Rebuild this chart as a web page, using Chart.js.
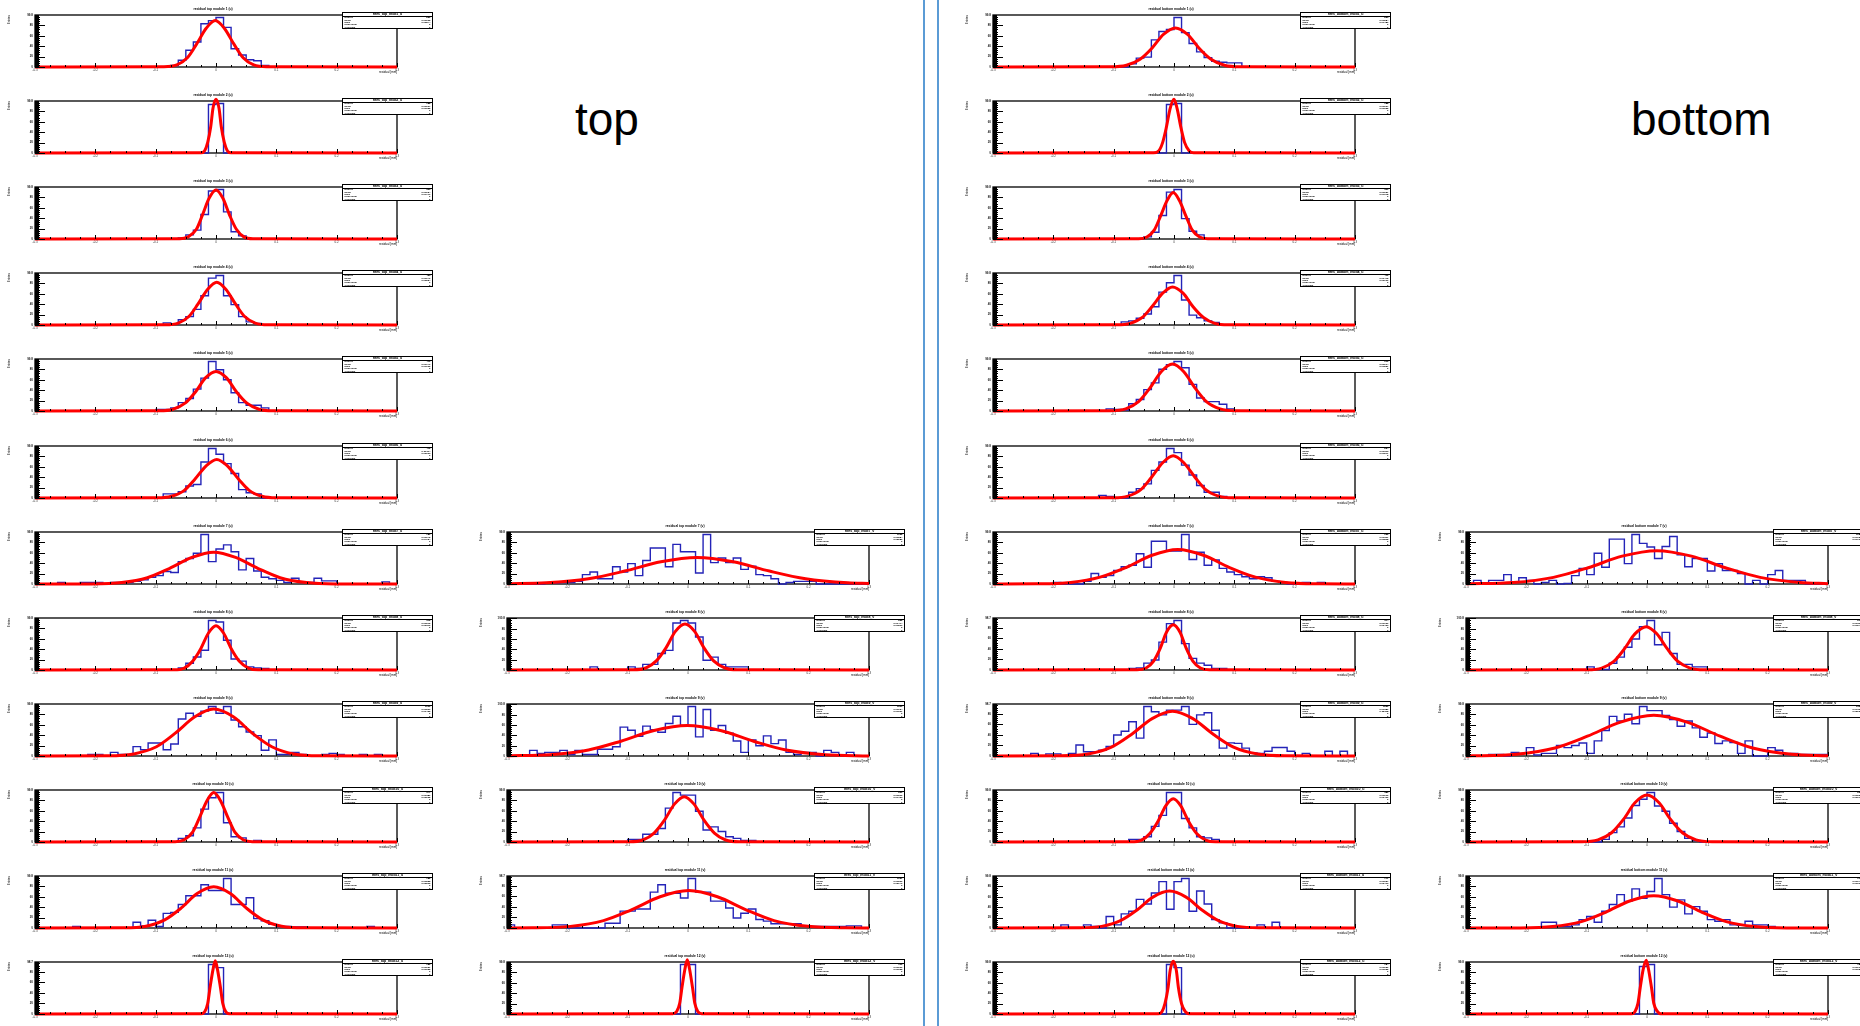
<!DOCTYPE html>
<html>
<head>
<meta charset="utf-8">
<title>Residual fits, top and bottom</title>
<script src="https://cdn.jsdelivr.net/npm/chart.js@4.4.1/dist/chart.umd.min.js"></script>
<style>
  body { margin: 0; width: 1860px; height: 1026px; overflow: hidden; background: #fff; position: relative;
         font-family: "Liberation Sans", Arial, sans-serif; }
  .panel { position: absolute; }
  .panel canvas { position: absolute; left: 0; top: 0; }
  .htitle { position: absolute; font-size: 3.3px; line-height: 3.6px; white-space: nowrap; transform: translateX(-50%); color: #000; font-weight: bold; }
  .stats { position: absolute; background: #fff; border: 1.2px solid #000; box-sizing: border-box; color: #000; overflow: hidden; }
  .stats .hd { font-weight: 900; font-size: 3.6px; line-height: 3.2px; height: 3.2px; text-align: center; border-bottom: 0.8px solid #000; white-space: nowrap; letter-spacing: -0.1px; }
  .stats .row { display: flex; justify-content: space-between; padding: 0 1.5px; font-size: 2.5px; line-height: 2.4px; height: 2.4px; font-weight: bold; }
  .side { position: absolute; font-size: 46px; line-height: 46px; color: #000; }
  .divider { position: absolute; top: 0; width: 2.5px; height: 1026px; background: #5b9bd5; }
</style>
</head>
<body>
<div class="divider" style="left:922.5px"></div>
<div class="divider" style="left:936.5px"></div>
<div class="side" style="left:575px;top:96px">top</div>
<div class="side" style="left:1631px;top:96px">bottom</div>

<script>
// ---- data -----------------------------------------------------------------
// panel order: top/left column rows 1-12, top/right column rows 7-12,
//              bottom/left column rows 1-12, bottom/right column rows 7-12
const NBINS = 48;
const xTickBins = [0, 8, 16, 24, 32, 40, 48];
const xTickLabels = ['-0.3', '-0.2', '-0.1', '0', '0.1', '0.2', '0.3'];

// first filled bin of each histogram
const histStart = [18, 23, 19, 17, 16, 17, 3, 19, 7, 19, 5, 23,
                   5, 11, 3, 16, 0, 23,
                   18, 23, 20, 17, 15, 14, 8, 18, 5, 18, 9, 23,
                   1, 16, 3, 18, 10, 23];

// bin contents from histStart onwards
const histCounts = [
  [3, 13, 32, 48, 83, 89, 95, 76, 35, 23, 14, 12, 3],
  [93, 95],
  [2, 8, 17, 47, 92, 95, 52, 14, 6],
  [4, 2, 10, 16, 30, 56, 90, 95, 56, 39, 16, 6, 3],
  [3, 3, 6, 16, 24, 42, 63, 95, 79, 60, 35, 16, 11, 11, 6],
  [8, 8, 12, 23, 26, 69, 95, 84, 66, 47, 16, 10, 8],
  [3, 0, 0, 3, 3, 3, 0, 3, 3, 3, 5, 8, 13, 16, 24, 22, 43, 49, 59, 95, 43, 67, 75, 62, 27, 49, 25, 13, 10, 7, 3, 11, 3, 3, 11, 6, 6, 0, 0, 0, 0, 0, 0, 4],
  [4, 13, 25, 38, 95, 92, 57, 21, 17, 6, 4, 3],
  [3, 3, 0, 7, 3, 3, 18, 12, 25, 25, 12, 23, 71, 82, 76, 86, 95, 82, 95, 69, 56, 46, 39, 11, 31, 3, 3, 7, 3, 0, 0, 3, 5, 3, 0, 0, 3, 0, 3],
  [7, 12, 27, 63, 85, 95, 37, 10, 8, 0, 3],
  [3, 0, 0, 0, 0, 0, 0, 0, 11, 4, 15, 3, 28, 30, 45, 62, 62, 83, 72, 72, 95, 45, 45, 58, 18, 14, 7, 3, 3, 2, 2, 0, 0, 0, 0, 0, 0, 0, 0, 3],
  [94, 88],

  [2, 2, 3, 3, 5, 18, 23, 10, 10, 33, 23, 39, 16, 45, 69, 69, 33, 76, 62, 62, 21, 95, 41, 50, 41, 50, 28, 34, 18, 16, 10, 0, 3, 5, 5, 5],
  [6, 0, 0, 0, 0, 6, 3, 11, 11, 32, 38, 91, 96, 91, 64, 19, 25, 11, 6, 6, 6],
  [11, 5, 7, 7, 11, 3, 11, 3, 3, 13, 13, 18, 56, 50, 38, 58, 51, 46, 63, 77, 59, 96, 37, 90, 50, 59, 44, 29, 7, 31, 20, 39, 24, 31, 7, 3, 7, 7, 0, 11, 7, 0, 7],
  [5, 5, 15, 15, 26, 65, 95, 90, 90, 59, 23, 29, 20, 10, 7, 3, 3],
  [6, 0, 0, 0, 0, 0, 6, 6, 0, 0, 0, 0, 0, 9, 9, 32, 32, 36, 36, 68, 82, 66, 66, 57, 94, 68, 68, 51, 51, 38, 19, 28, 36, 16, 13, 8, 8, 8, 8, 3, 3, 3, 3, 3, 3, 4, 4],
  [95, 95],

  [6, 17, 19, 52, 68, 72, 95, 66, 45, 29, 18, 11, 9, 8, 8],
  [93, 95],
  [4, 13, 45, 90, 95, 39, 15, 8],
  [6, 8, 13, 21, 35, 63, 81, 95, 48, 19, 14, 8, 5],
  [4, 3, 2, 14, 22, 41, 54, 80, 89, 95, 83, 51, 25, 18, 18, 13, 4],
  [5, 3, 0, 0, 11, 18, 27, 53, 69, 95, 87, 63, 44, 24, 11, 11, 3],
  [3, 0, 0, 0, 5, 20, 13, 16, 26, 33, 36, 58, 32, 82, 82, 63, 63, 95, 47, 61, 36, 46, 30, 23, 18, 14, 10, 14, 12, 5, 3, 0, 0, 3, 0, 3],
  [3, 4, 13, 19, 53, 88, 94, 50, 22, 13, 9, 3, 3],
  [5, 0, 4, 4, 0, 5, 21, 8, 8, 11, 18, 40, 47, 65, 34, 94, 84, 78, 87, 87, 94, 60, 78, 82, 49, 15, 25, 24, 15, 6, 5, 9, 16, 16, 9, 0, 5, 0, 0, 9, 0, 9],
  [5, 5, 10, 30, 51, 95, 95, 45, 27, 10, 8, 5],
  [6, 0, 0, 6, 3, 0, 22, 6, 27, 32, 55, 46, 67, 89, 36, 89, 95, 32, 71, 46, 16, 10, 0, 0, 0, 0, 6, 0, 11],
  [95, 89],

  [7, 0, 7, 7, 18, 3, 12, 7, 0, 3, 7, 0, 1, 16, 30, 18, 59, 32, 86, 86, 39, 95, 78, 71, 49, 72, 91, 56, 33, 49, 49, 25, 39, 26, 26, 20, 0, 7, 0, 18, 26, 7, 7, 7],
  [6, 1, 1, 13, 25, 44, 60, 84, 96, 49, 73, 32, 11, 11, 6, 6],
  [3, 3, 0, 7, 5, 16, 2, 5, 5, 20, 16, 20, 25, 5, 29, 49, 76, 67, 80, 62, 95, 87, 87, 78, 70, 57, 67, 54, 36, 44, 24, 29, 26, 5, 29, 0, 0, 16, 11, 3, 5, 3, 3, 3, 3],
  [5, 18, 29, 46, 70, 82, 95, 69, 59, 36, 20, 7, 3],
  [11, 11, 3, 3, 6, 16, 22, 11, 32, 45, 64, 51, 75, 57, 70, 95, 64, 40, 54, 27, 41, 32, 16, 13, 16, 6, 5, 13, 6, 6, 3],
  [91, 95]
];

// points (x in bin units)
const fitX = [
  [0, 17.1, 18.8, 20.2, 21.4, 22.7, 23.9, 25.1, 26.4, 27.6, 29.0, 30.7, 48],
  [0, 22.0, 22.5, 22.9, 23.3, 23.6, 24.0, 24.4, 24.7, 25.1, 25.5, 26.0, 48],
  [0, 19.2, 20.3, 21.4, 22.2, 23.1, 24.0, 24.9, 25.8, 26.7, 27.7, 28.9, 48],
  [0, 17.3, 19.0, 20.4, 21.6, 22.9, 24.1, 25.3, 26.6, 27.8, 29.2, 30.9, 48],
  [0, 16.5, 18.3, 19.9, 21.3, 22.6, 24.0, 25.4, 26.7, 28.1, 29.7, 31.5, 48],
  [0, 16.2, 18.1, 19.8, 21.2, 22.7, 24.1, 25.5, 27.0, 28.4, 30.1, 32.0, 48],
  [0, 7.5, 11.5, 14.9, 17.8, 20.8, 23.7, 26.6, 29.6, 32.5, 36.0, 39.9, 48],
  [0, 18.4, 19.8, 20.9, 22.0, 23.0, 24.0, 25.0, 26.0, 27.1, 28.3, 29.6, 48],
  [0, 9.7, 13.1, 16.1, 18.6, 21.2, 23.7, 26.3, 28.8, 31.4, 34.3, 37.7, 48],
  [0, 18.6, 19.8, 20.9, 21.8, 22.8, 23.7, 24.6, 25.6, 26.5, 27.6, 28.8, 48],
  [0, 11.8, 14.7, 17.2, 19.4, 21.5, 23.7, 25.9, 28.0, 30.2, 32.7, 35.6, 48],
  [0, 22.0, 22.5, 22.9, 23.2, 23.6, 23.9, 24.2, 24.6, 24.9, 25.3, 25.8, 48],

  [0, 5.2, 10.8, 15.6, 20.4, 25.2, 30.0, 34.8, 39.6, 45.2, 48],
  [0, 16.7, 18.4, 19.8, 21.1, 22.3, 23.6, 24.9, 26.1, 27.4, 28.9, 30.5, 48],
  [0, 5.7, 10.8, 15.1, 19.5, 23.9, 28.3, 32.7, 37.0, 42.2, 48],
  [0, 16.2, 18.0, 19.5, 20.9, 22.2, 23.5, 24.8, 26.1, 27.5, 29.0, 30.8, 48],
  [0, 3.3, 8.4, 12.8, 16.5, 20.3, 24.1, 27.9, 31.7, 35.4, 39.9, 44.9, 48],
  [0, 22.0, 22.5, 22.9, 23.2, 23.6, 23.9, 24.2, 24.6, 24.9, 25.3, 25.8, 48],

  [0, 15.6, 17.7, 19.5, 21.1, 22.6, 24.2, 25.8, 27.3, 28.9, 30.7, 32.8, 48],
  [0, 21.3, 22.0, 22.5, 23.0, 23.5, 24.0, 24.4, 24.9, 25.4, 26.0, 26.6, 48],
  [0, 19.3, 20.4, 21.4, 22.2, 23.1, 23.9, 24.7, 25.6, 26.4, 27.4, 28.5, 48],
  [0, 16.4, 18.2, 19.8, 21.1, 22.5, 23.8, 25.2, 26.5, 27.9, 29.4, 31.2, 48],
  [0, 15.6, 17.6, 19.3, 20.8, 22.3, 23.8, 25.3, 26.8, 28.3, 30.1, 32.1, 48],
  [0, 16.0, 17.9, 19.6, 21.0, 22.5, 23.9, 25.3, 26.8, 28.2, 29.9, 31.8, 48],
  [0, 5.7, 10.3, 14.2, 17.7, 21.1, 24.5, 27.9, 31.3, 34.8, 38.8, 43.3, 48],
  [0, 19.1, 20.3, 21.3, 22.2, 23.0, 23.9, 24.8, 25.6, 26.5, 27.5, 28.7, 48],
  [0, 9.0, 12.6, 15.7, 18.4, 21.1, 23.8, 26.5, 29.2, 31.9, 35.1, 38.7, 48],
  [0, 18.3, 19.7, 20.8, 21.9, 22.9, 23.9, 24.9, 25.9, 27.0, 28.2, 29.5, 48],
  [0, 11.5, 14.4, 16.9, 19.1, 21.2, 23.4, 25.6, 27.7, 29.9, 32.4, 35.3, 48],
  [0, 21.9, 22.4, 22.8, 23.2, 23.5, 23.9, 24.3, 24.6, 25.0, 25.5, 26.0, 48],

  [0, 6.3, 11.6, 16.2, 20.7, 25.3, 29.9, 34.4, 39.0, 44.3, 48],
  [0, 16.1, 18.0, 19.6, 21.0, 22.4, 23.9, 25.3, 26.7, 28.1, 29.7, 31.6, 48],
  [0, 0.8, 6.7, 11.8, 16.1, 20.5, 24.9, 29.3, 33.7, 38.0, 43.2, 48],
  [0, 15.4, 17.5, 19.3, 20.9, 22.4, 24.0, 25.6, 27.1, 28.7, 30.5, 32.6, 48],
  [0, 7.2, 11.5, 15.3, 18.5, 21.7, 24.9, 28.1, 31.3, 34.5, 38.3, 42.6, 48],
  [0, 21.9, 22.4, 22.8, 23.1, 23.5, 23.9, 24.2, 24.6, 24.9, 25.4, 25.8, 48]
];

const fitY = [
  [0, 0.4, 3.9, 17.6, 43.3, 74.3, 89, 74.3, 43.3, 17.6, 3.9, 0.4, 0],
  [0, 0.4, 4.5, 20.4, 50.2, 86, 103, 86, 50.2, 20.4, 4.5, 0.4, 0],
  [0, 0.4, 4.1, 18.6, 45.8, 78.5, 94, 78.5, 45.8, 18.6, 4.1, 0.4, 0],
  [0, 0.3, 3.6, 16.2, 39.9, 68.5, 82, 68.5, 39.9, 16.2, 3.6, 0.3, 0],
  [0, 0.3, 3.3, 15.0, 37.0, 63.5, 76, 63.5, 37.0, 15.0, 3.3, 0.3, 0],
  [0, 0.3, 3.3, 14.7, 36.0, 61.8, 74, 61.8, 36.0, 14.7, 3.3, 0.3, 0],
  [0, 0.2, 2.7, 12.1, 29.7, 50.9, 61, 50.9, 29.7, 12.1, 2.7, 0.2, 0],
  [0, 0.3, 3.7, 16.8, 41.4, 71.0, 85, 71.0, 41.4, 16.8, 3.7, 0.3, 0],
  [0, 0.4, 4.0, 17.8, 43.8, 75.2, 90, 75.2, 43.8, 17.8, 4.0, 0.4, 0],
  [0, 0.4, 4.2, 18.8, 46.3, 79.3, 95, 79.3, 46.3, 18.8, 4.2, 0.4, 0],
  [0, 0.3, 3.5, 15.6, 38.5, 66.0, 79, 66.0, 38.5, 15.6, 3.5, 0.3, 0],
  [0, 0.4, 4.4, 20.0, 49.2, 84.3, 101, 84.3, 49.2, 20.0, 4.4, 0.4, 0],

  [0.4, 2.2, 10.1, 24.8, 42.6, 51, 42.6, 24.8, 10.1, 2.2, 0.9],
  [0, 0.4, 3.9, 17.6, 43.3, 74.3, 89, 74.3, 43.3, 17.6, 3.9, 0.4, 0],
  [0.3, 2.6, 11.7, 28.7, 49.3, 59, 49.3, 28.7, 11.7, 2.6, 0.2],
  [0, 0.3, 3.8, 17.2, 42.4, 72.6, 87, 72.6, 42.4, 17.2, 3.8, 0.3, 0],
  [0.1, 0.3, 3.1, 14.1, 34.6, 59.3, 71, 59.3, 34.6, 14.1, 3.1, 0.3, 0.1],
  [0, 0.4, 4.6, 20.6, 50.6, 86.8, 104, 86.8, 50.6, 20.6, 4.6, 0.4, 0],

  [0, 0.3, 3.3, 14.9, 36.5, 62.6, 75, 62.6, 36.5, 14.9, 3.3, 0.3, 0],
  [0, 0.4, 4.5, 20.4, 50.2, 86, 103, 86, 50.2, 20.4, 4.5, 0.4, 0],
  [0, 0.4, 3.9, 17.6, 43.3, 74.3, 89, 74.3, 43.3, 17.6, 3.9, 0.4, 0],
  [0, 0.3, 3.2, 14.5, 35.6, 61.0, 73, 61.0, 35.6, 14.5, 3.2, 0.3, 0],
  [0, 0.4, 4.0, 17.8, 43.8, 75.2, 90, 75.2, 43.8, 17.8, 4.0, 0.4, 0],
  [0, 0.3, 3.6, 16.0, 39.4, 67.6, 81, 67.6, 39.4, 16.0, 3.6, 0.3, 0],
  [0, 0.3, 2.9, 13.1, 32.1, 55.1, 66, 55.1, 32.1, 13.1, 2.9, 0.3, 0],
  [0, 0.3, 3.8, 17.0, 41.9, 71.8, 86, 71.8, 41.9, 17.0, 3.8, 0.3, 0],
  [0, 0.3, 3.7, 16.8, 41.4, 71.0, 85, 71.0, 41.4, 16.8, 3.7, 0.3, 0],
  [0, 0.3, 3.7, 16.4, 40.4, 69.3, 83, 69.3, 40.4, 16.4, 3.7, 0.3, 0],
  [0, 0.3, 3.1, 14.1, 34.6, 59.3, 71, 59.3, 34.6, 14.1, 3.1, 0.3, 0],
  [0, 0.4, 4.4, 20.0, 49.2, 84.3, 101, 84.3, 49.2, 20.0, 4.4, 0.4, 0],

  [0.3, 2.8, 12.7, 31.2, 53.4, 64, 53.4, 31.2, 12.7, 2.8, 0.7],
  [0, 0.3, 3.7, 16.6, 40.9, 70.1, 84, 70.1, 40.9, 16.6, 3.7, 0.3, 0],
  [0.2, 0.3, 3.4, 15.4, 38.0, 65.1, 78, 65.1, 38.0, 15.4, 3.4, 0.5],
  [0, 0.4, 4.0, 17.8, 43.8, 75.2, 90, 75.2, 43.8, 17.8, 4.0, 0.4, 0],
  [0, 0.2, 2.7, 12.3, 30.2, 51.8, 62, 51.8, 30.2, 12.3, 2.7, 0.2, 0],
  [0, 0.4, 4.5, 20.4, 50.2, 86, 103, 86, 50.2, 20.4, 4.5, 0.4, 0]
];

// ---- layout ---------------------------------------------------------------
const FRAME_W = 362, FRAME_H = 52;
const AXIS_L = 38, AXIS_B = 12, PAD_T = 15, PAD_R = 40;
const ROW0 = 15, ROW_PITCH = 86.1;

const groups = [
  { side: 'top', frameLeft: 35, firstRow: 0, proj: 'u' },
  { side: 'top', frameLeft: 507, firstRow: 6, proj: 'v' },
  { side: 'bottom', frameLeft: 993, firstRow: 0, proj: 'u' },
  { side: 'bottom', frameLeft: 1466, firstRow: 6, proj: 'v' }
];

// ROOT style frame and tick marks (ticks drawn inside the frame)
const rootAxes = {
  id: 'rootAxes',
  beforeDatasetsDraw(chart) {
    const { ctx, chartArea: a } = chart;
    ctx.save();
    ctx.strokeStyle = '#000';
    ctx.lineWidth = 1.3;
    ctx.strokeRect(a.left, a.top, a.right - a.left, a.bottom - a.top);
    ctx.restore();
  },
  afterDatasetsDraw(chart) {
    const { ctx, chartArea: a, scales: { x, y } } = chart;
    ctx.save();
    ctx.strokeStyle = '#000';
    ctx.lineWidth = 1;
    ctx.beginPath();
    for (let b = 0; b <= NBINS; b += 2) {
      const px = Math.round(x.getPixelForValue(b)) + 0.5;
      const len = b % 8 === 0 ? 4 : 2;
      ctx.moveTo(px, a.bottom);
      ctx.lineTo(px, a.bottom - len);
    }
    const step = y.ticks.length > 1 ? y.ticks[1].value - y.ticks[0].value : 10;
    const nMinor = Math.floor(y.max / (step / 5));
    for (let i = 0; i <= nMinor; i++) {
      const py = Math.round(y.getPixelForValue(i * step / 5)) + 0.5;
      ctx.moveTo(a.left, py);
      ctx.lineTo(a.left + (i % 5 === 0 ? 10 : 5), py);
    }
    ctx.stroke();
    // dense minor ticks merge into a solid band, as in the original plots
    ctx.fillStyle = '#000';
    ctx.fillRect(a.left, a.top, 4, a.bottom - a.top);
    ctx.restore();
  }
};

function histPoints(start, counts) {
  const pts = [{ x: 0, y: 0 }];
  for (let b = 0; b < NBINS; b++) {
    const c = b >= start && b < start + counts.length ? counts[b - start] : 0;
    pts.push({ x: b, y: c });
  }
  pts.push({ x: NBINS, y: 0 });
  return pts;
}

function binCenter(b) {
  return -0.3 + (b + 0.5) * 0.6 / NBINS;
}

function statsLines(start, counts) {
  let n = 0, s1 = 0, s2 = 0;
  counts.forEach((c, i) => {
    const xc = binCenter(start + i);
    n += c; s1 += c * xc; s2 += c * xc * xc;
  });
  const mean = s1 / n;
  const rms = Math.sqrt(Math.max(s2 / n - mean * mean, 0));
  return [['Entries', String(Math.round(n))], ['Mean', mean.toFixed(5)],
          ['RMS', rms.toFixed(5)], ['Underflow', '0'], ['Overflow', '0']];
}

let k = 0;
groups.forEach(g => {
  for (let row = g.firstRow; row < 12; row++, k++) {
    const frameTop = Math.round(ROW0 + ROW_PITCH * row);
    const name = 'hres_' + g.side + '_mod' + (row + 1) + '_' + g.proj;
    const title = 'residual ' + g.side + ' module ' + (row + 1) + ' (' + g.proj + ')';

    const panel = document.createElement('div');
    panel.className = 'panel';
    const w = AXIS_L + FRAME_W + PAD_R, h = PAD_T + FRAME_H + AXIS_B;
    panel.style.left = (g.frameLeft - AXIS_L) + 'px';
    panel.style.top = (frameTop - PAD_T) + 'px';
    panel.style.width = w + 'px';
    panel.style.height = h + 'px';

    const canvas = document.createElement('canvas');
    canvas.width = w;
    canvas.height = h;
    panel.appendChild(canvas);

    const t = document.createElement('div');
    t.className = 'htitle';
    t.style.left = (AXIS_L + FRAME_W / 2 - 3) + 'px';
    t.style.top = (PAD_T - 7) + 'px';
    t.textContent = title;
    panel.appendChild(t);

    const st = document.createElement('div');
    st.className = 'stats';
    st.style.left = (AXIS_L + FRAME_W - 55) + 'px';
    st.style.top = (PAD_T - 3) + 'px';
    st.style.width = '91px';
    st.style.height = '17px';
    let html = '<div class="hd">' + name + '</div>';
    statsLines(histStart[k], histCounts[k]).forEach(([a, b]) => {
      html += '<div class="row"><span>' + a + '</span><span>' + b + '</span></div>';
    });
    st.innerHTML = html;
    panel.appendChild(st);
    document.body.appendChild(panel);

    const ymax = Math.max(...histCounts[k]) * 1.05;
    const fitPts = fitX[k].map((x, i) => ({ x: x, y: fitY[k][i] }));

    new Chart(canvas.getContext('2d'), {
      type: 'line',
      data: {
        datasets: [
          {
            label: 'gaus fit',
            data: fitPts,
            borderColor: '#ff0000',
            borderWidth: 3,
            pointRadius: 0,
            cubicInterpolationMode: 'monotone',
            fill: false,
            clip: { left: 0, top: 4, right: 0, bottom: 3 }
          },
          {
            label: name,
            data: histPoints(histStart[k], histCounts[k]),
            borderColor: '#2424b8',
            borderWidth: 1.4,
            pointRadius: 0,
            stepped: 'before',
            fill: false,
            clip: { left: 0, top: 2, right: 0, bottom: 2 }
          }
        ]
      },
      options: {
        responsive: false,
        animation: false,
        events: [],
        layout: { padding: { top: PAD_T, right: PAD_R, left: 0, bottom: 0 } },
        plugins: { legend: { display: false }, tooltip: { enabled: false } },
        scales: {
          x: {
            type: 'linear',
            min: 0,
            max: NBINS,
            afterFit(s) { s.height = AXIS_B; },
            afterBuildTicks(s) { s.ticks = xTickBins.map(v => ({ value: v })); },
            grid: { display: false, drawTicks: false },
            border: { display: false },
            ticks: {
              autoSkip: false, maxRotation: 0, padding: 1, color: '#333',
              font: { size: 3, family: 'Liberation Sans' },
              callback: (v, i) => xTickLabels[i]
            },
            title: {
              display: true, text: 'residual [mm]', align: 'end', color: '#000',
              font: { size: 3, family: 'Liberation Sans' }, padding: { top: 0, bottom: 5 }
            }
          },
          y: {
            min: 0,
            max: ymax,
            afterFit(s) { s.width = AXIS_L; },
            grid: { display: false, drawTicks: false },
            border: { display: false },
            ticks: {
              maxTicksLimit: 11, padding: 2, color: '#222',
              font: { size: 3, family: 'Liberation Sans', weight: 'bold' }
            },
            title: {
              display: true, text: 'Entries', align: 'end', color: '#000',
              font: { size: 3, family: 'Liberation Sans' }, padding: { top: 10, bottom: 0 }
            }
          }
        }
      },
      plugins: [rootAxes]
    });
  }
});
</script>
</body>
</html>
